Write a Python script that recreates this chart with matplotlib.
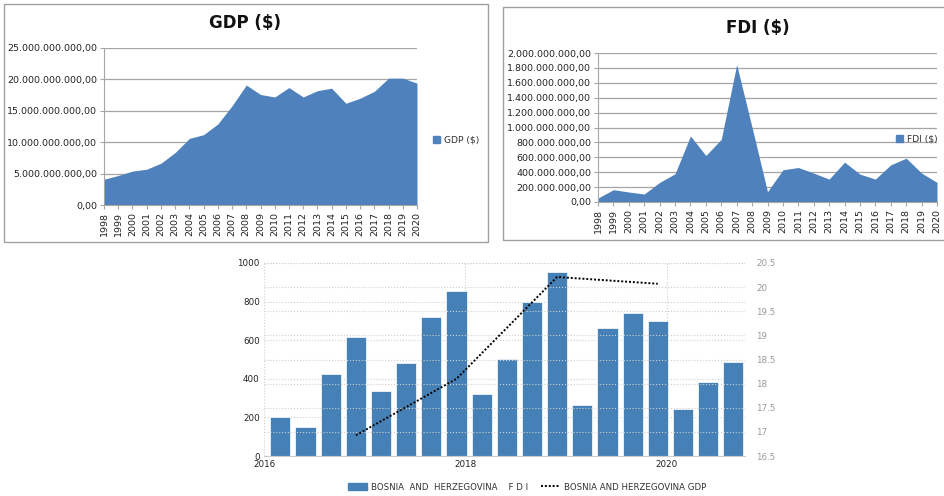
import matplotlib
matplotlib.use("Agg")
import matplotlib.pyplot as plt
from matplotlib.patches import Rectangle, Patch
from matplotlib.lines import Line2D
from matplotlib.ticker import FuncFormatter, MultipleLocator
import numpy as np

# yearly data 1998-2020 (USD)
years = list(range(1998, 2021))
gdp = [4.1, 4.7, 5.4, 5.7, 6.65, 8.35, 10.6, 11.2, 12.9, 15.8, 19.1, 17.6,
       17.2, 18.7, 17.2, 18.2, 18.6, 16.2, 17.0, 18.1, 20.2, 20.2, 19.4]  # billions
fdi = [0.053, 0.165, 0.134, 0.107, 0.263, 0.379, 0.886, 0.624, 0.842, 1.844,
       1.0, 0.138, 0.432, 0.463, 0.388, 0.307, 0.535, 0.374, 0.307, 0.499,
       0.588, 0.388, 0.263]  # billions

# quarterly FDI (EUR million) 2016Q1 - 2020Q3
q_years = [2016]*4 + [2017]*4 + [2018]*4 + [2019]*4 + [2020]*3
q_num = [1, 2, 3, 4]*4 + [1, 2, 3]
q_fdi = [200, 149, 425, 618, 339, 480, 718, 857, 321, 503, 796, 955,
         266, 661, 739, 701, 244, 385, 488]

# annual GDP (USD billion), plotted at year end
gdp_years = [2016, 2017, 2018, 2019]
gdp_bn = [16.93, 18.10, 20.21, 20.07]

W, H = 944, 496
AREA = '#4F81BD'
BAR = '#4581B6'
GRID = '#A5A5A5'


def rect(x0, y0, x1, y1):
    return [x0 / W, 1 - y1 / H, (x1 - x0) / W, (y1 - y0) / H]


def euro_fmt(v, pos):
    s = f"{v:,.2f}"
    return s.replace(",", "X").replace(".", ",").replace("X", ".")


def excel_area(ax, vals, ymax, step, title, label, title_xy, leg_xy):
    ax.fill_between(years, [v * 1e9 for v in vals], 0, color=AREA, lw=0)
    ax.set_xlim(years[0], years[-1])
    ax.set_ylim(0, ymax)
    ax.yaxis.set_major_locator(MultipleLocator(step))
    ax.yaxis.set_major_formatter(FuncFormatter(euro_fmt))
    ax.set_xticks(years)
    ax.set_xticklabels([str(y) for y in years], rotation=90)
    ax.tick_params(axis='both', labelsize=6.8, colors='#222222', length=3,
                   width=0.8, pad=2)
    ax.tick_params(axis='both', color=GRID)
    ax.grid(axis='y', color=GRID, lw=0.9)
    ax.set_axisbelow(True)
    for s in ['top', 'right']:
        ax.spines[s].set_visible(False)
    for s in ['left', 'bottom']:
        ax.spines[s].set_color(GRID)
    fig.text(title_xy[0] / W, 1 - title_xy[1] / H, title, ha='center',
             va='center', fontsize=12, fontweight='bold', color='#111111')
    fig.legend(handles=[Patch(color=AREA)], labels=[label], loc='center left',
               bbox_to_anchor=(leg_xy[0] / W, 1 - leg_xy[1] / H),
               frameon=False, fontsize=6.6, handlelength=0.8, handleheight=0.8,
               handletextpad=0.4, borderaxespad=0, borderpad=0,
               labelcolor='#333333')


fig = plt.figure(figsize=(9.44, 4.96), dpi=100)

# panel frames
fig.patches.append(Rectangle((4 / W, 1 - 242 / H), 484 / W, 238 / H,
                             transform=fig.transFigure, fill=False,
                             ec='#A0A0A0', lw=1))
fig.patches.append(Rectangle((503 / W, 1 - 240 / H), 460 / W, 233 / H,
                             transform=fig.transFigure, fill=False,
                             ec='#A0A0A0', lw=1))

ax1 = fig.add_axes(rect(104, 48, 417, 205))
excel_area(ax1, gdp, 25e9, 5e9, 'GDP ($)', 'GDP ($)', (245, 23), (433, 140))

ax2 = fig.add_axes(rect(598, 53, 937, 202))
excel_area(ax2, fdi, 2e9, 2e8, 'FDI ($)', 'FDI ($)', (758, 28), (896, 139))

# bottom chart
ax3 = fig.add_axes(rect(264, 263, 745, 456))
qx = [y + (q - 1) / 4 + 0.163 for y, q in zip(q_years, q_num)]
ax3.bar(qx, q_fdi, width=0.2, color=BAR, edgecolor='white', lw=0.5, zorder=2)
ax3.set_xlim(2016, 2020.78)
ax3.set_ylim(0, 1000)
ax3.yaxis.set_major_locator(MultipleLocator(200))
ax3.set_xticks([2016, 2018, 2020])
ax3.grid(color='#CFCFCF', ls=':', lw=0.8, zorder=0)
ax3.tick_params(labelsize=6.3, colors='#222222', length=0, pad=3)
for s in ['top', 'right', 'left']:
    ax3.spines[s].set_visible(False)
ax3.spines['bottom'].set_color('#CCCCCC')

ax4 = ax3.twinx()
gx = [y + 0.913 for y in gdp_years]
ax4.plot(gx, gdp_bn, color='black', ls=(0, (1, 1)), lw=1.4, zorder=3)
ax4.set_ylim(16.5, 20.5)
ax4.yaxis.set_major_locator(MultipleLocator(0.5))
ax4.yaxis.set_major_formatter(FuncFormatter(lambda v, p: f"{v:g}"))
ax4.grid(axis='y', color='#CFCFCF', ls=':', lw=0.8)
ax4.tick_params(labelsize=6.3, colors='#999999', length=0, pad=8)
for s in ax4.spines.values():
    s.set_visible(False)

fig.legend(handles=[Patch(color=BAR),
                    Line2D([], [], color='black', ls=(0, (1, 1)), lw=1.4)],
           labels=['BOSNIA  AND  HERZEGOVINA    F D I', 'BOSNIA AND HERZEGOVINA GDP'],
           loc='center', bbox_to_anchor=(527 / W, 1 - 487 / H), ncol=2,
           frameon=False, fontsize=6.2, handlelength=2.2, handleheight=0.7,
           handletextpad=0.5, columnspacing=1.5, labelcolor='#333333',
           borderaxespad=0, borderpad=0)

fig.savefig('out.png', dpi=100)
